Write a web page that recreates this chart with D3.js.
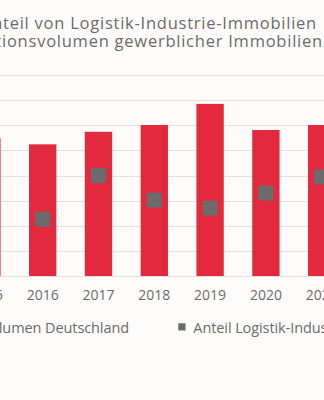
<!DOCTYPE html>
<html>
<head>
<meta charset="utf-8">
<script src="https://cdn.jsdelivr.net/npm/d3@7"></script>
<style>
  html, body { margin: 0; padding: 0; background: #fdfcfb; }
  svg { display: block; }
  text { font-family: "Open Sans", sans-serif; fill: #6b6b6b; }
</style>
</head>
<body>
<svg id="chart" width="324" height="400"></svg>
<script>
const years = ["2015", "2016", "2017", "2018", "2019", "2020", "2021"];
const volume = [54.8, 52.4, 57.4, 60.1, 68.5, 58.1, 60.1];
const share = [13.0, 11.3, 20.0, 15.1, 13.5, 16.5, 19.7];
const gridTicks = [0, 10, 20, 30, 40, 50, 60, 70, 80];
const titleLines = ["Anteil von Logistik-Industrie-Immobilien", "Transaktionsvolumen gewerblicher Immobilien"];
const legendLabels = ["Transaktionsvolumen Deutschland", "Anteil Logistik-Industrie-Immobilien"];

const W = 324, H = 400;
const svg = d3.select("#chart");

const x = d3.scaleBand().domain(years).range([-41, 349.6]).paddingInner(0.51).paddingOuter(0.255);
const y = d3.scaleLinear().domain([0, 80]).range([276, 75]);
const y2 = d3.scaleLinear().domain([0, 40]).range([276, 75]);

// gridlines
svg.append("g").selectAll("line").data(gridTicks).join("line")
  .attr("x1", 0).attr("x2", W)
  .attr("y1", d => Math.round(y(d)) + 0.5).attr("y2", d => Math.round(y(d)) + 0.5)
  .attr("stroke", "#e4e2e0").attr("stroke-width", 1.2);

// bars
svg.append("g").selectAll("rect").data(years).join("rect")
  .attr("x", d => x(d))
  .attr("width", x.bandwidth())
  .attr("y", (d, i) => y(volume[i]))
  .attr("height", (d, i) => y(0) - y(volume[i]))
  .attr("fill", "#e2293e");

// share markers
const ms = 15;
svg.append("g").selectAll("rect").data(years).join("rect")
  .attr("x", d => x(d) + x.bandwidth() / 2 - ms / 2)
  .attr("y", (d, i) => y2(share[i]) - ms / 2)
  .attr("width", ms).attr("height", ms)
  .attr("fill", "#6b6b6b");

// x axis labels
const xAxis = d3.axisBottom(x).tickSize(0).tickPadding(0);
const gx = svg.append("g").attr("transform", "translate(0,287)").call(xAxis);
gx.select(".domain").remove();
gx.selectAll("text").style("font-size", "14px").attr("dy", "0.95em").style("fill", "#6b6b6b");

// helper: letter-spacing so chars [k0..k1] span from a to b
function fitSpacing(sel, k0, k1, target) {
  let ls = 0;
  const node = sel.node();
  for (let it = 0; it < 4; it++) {
    sel.style("letter-spacing", ls + "px");
    const s = node.getStartPositionOfChar(k0).x;
    const e = node.getEndPositionOfChar(k1).x;
    ls += (target - (e - s)) / (k1 - k0);
  }
  sel.style("letter-spacing", ls + "px");
  return ls;
}
function placeChar(sel, k, xTarget) {
  sel.attr("x", 0);
  const s = sel.node().getStartPositionOfChar(k).x;
  sel.attr("x", xTarget - s);
}

// title
const t1 = svg.append("text").attr("x", 0).attr("y", 28.5).style("font-size", "16.5px").text(titleLines[0]);
const k1 = titleLines[0].indexOf("teil");
const ls1 = fitSpacing(t1, k1, titleLines[0].length - 1, 314);
placeChar(t1, k1, 3);
const t2 = svg.append("text").attr("x", 0).attr("y", 46.5).style("font-size", "16.5px")
  .style("letter-spacing", ls1 + "px").text(titleLines[1]);
placeChar(t2, titleLines[1].indexOf("ionsvolumen"), 2);

// legend
const legend = svg.append("g");
const l1 = legend.append("text").attr("x", 0).attr("y", 333.3).style("font-size", "14.5px").text(legendLabels[0]);
const kd = legendLabels[0].indexOf("Deutschland");
const lsl = fitSpacing(l1, kd, legendLabels[0].length - 1, 84);
placeChar(l1, kd, 45);
legend.append("rect").attr("x", 178.3).attr("y", 323.3).attr("width", 7.2).attr("height", 7.2).attr("fill", "#6b6b6b");
legend.append("text").attr("x", 193.3).attr("y", 333.3).style("font-size", "14.5px")
  .style("letter-spacing", lsl + "px").text(legendLabels[1]);
const l1x = +l1.attr("x");
legend.append("rect").attr("x", l1x - 15).attr("y", 323.3).attr("width", 7.2).attr("height", 7.2).attr("fill", "#e2293e");
</script>
</body>
</html>
